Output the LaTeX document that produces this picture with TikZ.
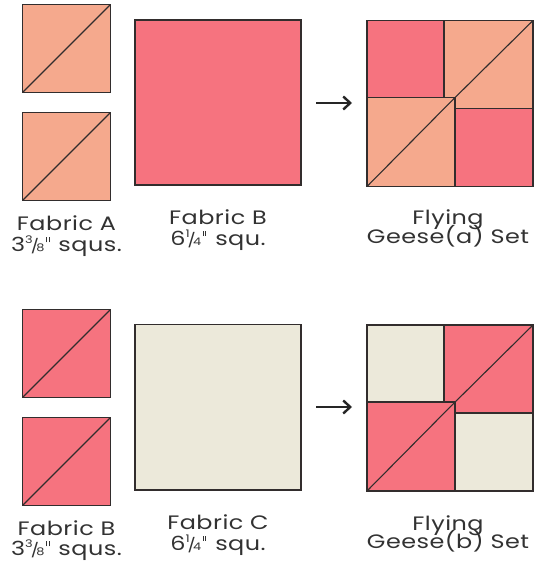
\documentclass[tikz,border=0pt]{standalone}
\usepackage{fontspec}
\setmainfont{Poppins}[FakeStretch=1.23,LetterSpace=2.5]
\usetikzlibrary{arrows.meta}
\definecolor{peach}{RGB}{245,169,141}
\definecolor{pinkf}{RGB}{246,115,127}
\definecolor{creamf}{RGB}{236,233,218}
\definecolor{edge}{RGB}{50,45,45}
\definecolor{txt}{RGB}{50,50,50}
\newcommand{\fracsm}[2]{\raisebox{0.4em}{\fontsize{10.5}{10.5}\selectfont #1}\kern-0.1em{\fontsize{14}{14}\selectfont /}\kern-0.14em{\fontsize{10.5}{10.5}\selectfont #2}}
\newcommand{\inchmark}{\kern0.07em\rule[0.47em]{0.055em}{0.27em}\kern0.09em\rule[0.47em]{0.055em}{0.27em}\kern0.1em}
\tikzset{
  patch/.style={draw=edge, line width=1.1bp},
  seam/.style={draw=edge, line width=1.1bp},
  lbl/.style={anchor=base, inner sep=0pt, text=txt, font=\fontsize{19.5}{21}\selectfont},
  arrowline/.style={draw=black!85, line width=2.4bp, -{Straight Barb[length=7bp,width=13bp,line width=2.4bp]}}
}
\begin{document}
\begin{tikzpicture}[x=1bp,y=-1bp]
\useasboundingbox (0,0) rectangle (548,575);
% ===== TOP ROW =====
\filldraw[patch,fill=peach] (22.5,4.5) rectangle (110.5,92.5);
\draw[seam] (22.5,92.5) -- (110.5,4.5);
\filldraw[patch,fill=peach] (22.5,112.5) rectangle (110.5,200.5);
\draw[seam] (22.5,200.5) -- (110.5,112.5);
\filldraw[patch,fill=pinkf] (135,20) rectangle (301,185);
\coordinate (a1s) at (316,103);
\coordinate (a1e) at (352,103);
\draw[arrowline] (a1s) -- (a1e);
\begin{scope}[shift={(367,20.5)}]
  \filldraw[patch,fill=pinkf] (0,0) rectangle (77,77);
  \filldraw[patch,fill=peach] (77,0) rectangle (166,88);
  \draw[seam] (77,88) -- (166,0);
  \filldraw[patch,fill=peach] (0,77) rectangle (88,166);
  \draw[seam] (0,166) -- (88,77);
  \filldraw[patch,fill=pinkf] (88,88) rectangle (166,166);
\end{scope}
\node[lbl] (la1) at (66.5,230) {Fabric A};
\node[lbl] (la2) at (66.5,251.5) {3\fracsm{3}{8}\inchmark{} squs.};
\node[lbl] (lb1) at (218,224) {Fabric B};
\node[lbl] (lb2) at (218,245) {6\fracsm{1}{4}\inchmark{} squ.};
\node[lbl] (lg1) at (448,224) {Flying};
\node[lbl] (lg2) at (448,243.5) {Geese(a) Set};
% ===== BOTTOM ROW =====
\filldraw[patch,fill=pinkf] (22.5,309.5) rectangle (110.5,397.5);
\draw[seam] (22.5,397.5) -- (110.5,309.5);
\filldraw[patch,fill=pinkf] (22.5,417.5) rectangle (110.5,505.5);
\draw[seam] (22.5,505.5) -- (110.5,417.5);
\filldraw[patch,fill=creamf] (135,324.5) rectangle (301,490);
\coordinate (a2s) at (316,407);
\coordinate (a2e) at (352,407);
\draw[arrowline] (a2s) -- (a2e);
\begin{scope}[shift={(367,325)}]
  \filldraw[patch,fill=creamf] (0,0) rectangle (77,77);
  \filldraw[patch,fill=pinkf] (77,0) rectangle (166,88);
  \draw[seam] (77,88) -- (166,0);
  \filldraw[patch,fill=pinkf] (0,77) rectangle (88,166);
  \draw[seam] (0,166) -- (88,77);
  \filldraw[patch,fill=creamf] (88,88) rectangle (166,166);
\end{scope}
\node[lbl] (lc1) at (66.5,535) {Fabric B};
\node[lbl] (lc2) at (66.5,555.5) {3\fracsm{3}{8}\inchmark{} squs.};
\node[lbl] (ld1) at (218,529) {Fabric C};
\node[lbl] (ld2) at (218,550) {6\fracsm{1}{4}\inchmark{} squ.};
\node[lbl] (le1) at (448,530) {Flying};
\node[lbl] (le2) at (448,548.5) {Geese(b) Set};
\end{tikzpicture}
\end{document}
